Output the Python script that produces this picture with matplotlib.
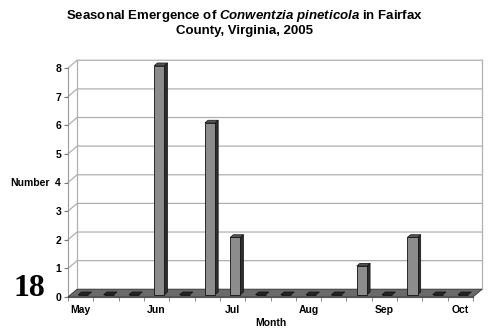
import matplotlib
matplotlib.use("Agg")
import matplotlib.pyplot as plt
from matplotlib.patches import Polygon

plt.rcParams['font.family'] = ['Liberation Sans', 'DejaVu Sans']
plt.rcParams['mathtext.fontset'] = 'custom'
plt.rcParams['mathtext.it'] = 'Liberation Sans:italic:bold'
plt.rcParams['mathtext.rm'] = 'Liberation Sans:bold'

# weekly emergence counts, mid May to mid October
weeks = list(range(16))
counts = [0, 0, 0, 8, 0, 6, 2, 0, 0, 0, 0, 1, 0, 2, 0, 0]
month_ticks = [0, 3, 6, 9, 12, 15]
month_labels = ["May", "Jun", "Jul", "Aug", "Sep", "Oct"]
y_ticks = list(range(9))

# pseudo-3D depth (data units)
DX, DY = 0.36, 0.27
BAR_W = 0.4
F0, FD = 0.3, 0.35   # bar front offset and bar depth, as fractions of the depth

fig = plt.figure(figsize=(4.88, 3.30), dpi=100)
ax = fig.add_axes([68 / 488, 33 / 330, 405 / 488, 229 / 330])
ax.set_xlim(-0.5, 15.5)
ax.set_ylim(0, 8)

grid_c = '#b0b0b0'
# back wall gridlines with the diagonal run back from the front axis
for y in y_ticks:
    ax.plot([-0.5, -0.5 + DX, 15.5 + DX], [y, y + DY, y + DY],
            color=grid_c, lw=0.9, clip_on=False, zorder=1)
ax.plot([-0.5 + DX, -0.5 + DX], [DY, 8 + DY], color=grid_c, lw=0.9, clip_on=False, zorder=1)
ax.plot([15.5 + DX, 15.5 + DX], [DY, 8 + DY], color=grid_c, lw=0.9, clip_on=False, zorder=1)

# floor
floor = Polygon([(-0.5, 0), (15.5, 0), (15.5 + DX, DY), (-0.5 + DX, DY)],
                closed=True, facecolor='#6a6a6a', edgecolor='#3a3a3a', lw=0.6,
                clip_on=False, zorder=2)
ax.add_patch(floor)

# bars: front face, right side and top
bx = [w + F0 * DX for w in weeks]
base = F0 * DY
ax.bar(bx, counts, width=BAR_W, bottom=base, color='#8c8c8c',
       edgecolor='#111111', lw=0.6, zorder=4, clip_on=False)
for x, v in zip(bx, counts):
    r = x + BAR_W / 2
    l = x - BAR_W / 2
    top = base + v
    if v > 0:
        side = Polygon([(r, base), (r + FD * DX, base + FD * DY),
                        (r + FD * DX, top + FD * DY), (r, top)],
                       closed=True, facecolor='#2e2e2e', edgecolor='#111111',
                       lw=0.5, clip_on=False, zorder=3)
        ax.add_patch(side)
    lid = Polygon([(l, top), (r, top), (r + FD * DX, top + FD * DY), (l + FD * DX, top + FD * DY)],
                  closed=True, facecolor='#555555' if v > 0 else '#262626',
                  edgecolor='#111111', lw=0.5, clip_on=False, zorder=5)
    ax.add_patch(lid)

for s in ['top', 'right']:
    ax.spines[s].set_visible(False)
ax.spines['left'].set_color('#9a9a9a')
ax.spines['bottom'].set_color('#555555')
ax.spines['left'].set_zorder(1)

ax.set_yticks(y_ticks)
ax.set_yticklabels([str(t) for t in y_ticks], fontsize=7.5, fontweight='bold')
ax.tick_params(axis='y', length=3, width=0.8, color='#777777', pad=2)

ax.set_xticks(month_ticks)
ax.set_xticklabels(month_labels, fontsize=7.5, fontweight='bold')
ax.set_xticks([w - 0.5 for w in weeks] + [15.5], minor=True)
ax.tick_params(axis='x', which='major', length=0, pad=6)
ax.tick_params(axis='x', which='minor', length=3, width=0.6, color='#777777')

ax.set_xlabel("Month", fontsize=7.5, fontweight='bold', labelpad=2)
ax.set_ylabel("Number", fontsize=7.5, fontweight='bold', rotation=0,
              ha='right', va='center')
ax.yaxis.set_label_coords(-0.045, 0.5)

fig.text(0.502, 0.975,
         "Seasonal Emergence of $Conwentzia\\ pineticola$ in Fairfax\nCounty, Virginia, 2005",
         ha='center', va='top', fontsize=9.5, fontweight='bold', linespacing=1.1)

fig.text(13 / 488, (330 - 296) / 330, "18", family='Liberation Serif',
         fontweight='bold', fontsize=23, ha='left', va='baseline')

fig.savefig("out.png", dpi=100)
